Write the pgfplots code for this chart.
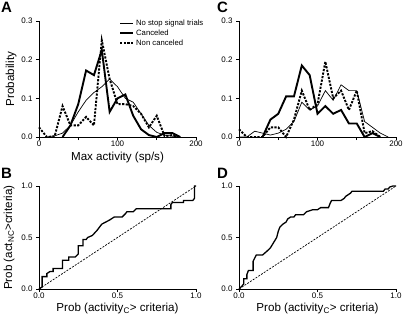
\documentclass[border=0pt]{standalone}
\usepackage{pgfplots}
\pgfplotsset{compat=1.18}
\usepackage{fontspec}
\setmainfont{Liberation Sans}
\begin{document}
\begin{tikzpicture}[x=1pt,y=1pt]
\pgfplotsset{
  every axis/.append style={
    scale only axis, axis lines=left, axis line style={-, line width=0.9pt},
    tick align=outside, tick style={line width=0.8pt, black}, major tick length=3pt,
    tick label style={font=\fontsize{8}{8}\selectfont},
    xticklabel style={inner sep=1pt},
    label style={font=\fontsize{11.6}{12}\selectfont},
    clip=false, enlargelimits=false,
  },
  nostop/.style={black, line width=0.7pt},
  canc/.style={black, line width=1.9pt},
  noncanc/.style={black, line width=1.9pt, dash pattern=on 2.2pt off 1.4pt},
  histax/.style={width=157pt, height=116pt, xmin=0, xmax=200, ymin=0, ymax=0.3,
    xtick={0,50,100,150,200}, xticklabels={0,,100,,200},
    ytick={0,0.1,0.2,0.3}, yticklabels={0.0,0.1,0.2,0.3}},
  rocax/.style={width=157pt, height=103pt, xmin=0, xmax=1, ymin=0, ymax=1,
    xtick={0,0.5,1}, xticklabels={0.0,0.5,1.0},
    ytick={0,0.5,1}, yticklabels={0.0,0.5,1.0},
    xlabel={Prob (activity$_{\mathrm{C}}$> criteria)},
    xlabel style={at={(axis description cs:0.5,-0.19)}, anchor=center}},
}
% Panel A
\begin{axis}[histax, at={(39pt,182pt)}, anchor=south west,
  xlabel={Max activity (sp/s)}, ylabel={Probability},
  xlabel style={at={(axis description cs:0.5,-0.175)}, anchor=center},
  ylabel style={at={(axis description cs:-0.178,0.5)}, anchor=center},
  legend style={at={(axis description cs:0.51,1.03)}, anchor=north west, draw=none, fill=none,
    font=\fontsize{7.7}{8}\selectfont, row sep=-1.2pt, inner sep=0pt, cells={anchor=west}},
  legend image code/.code={\draw[#1] (0pt,0pt) -- (13pt,0pt);},
  ]
\addplot[nostop] coordinates {(10,0) (20,0.003) (30,0.01) (40,0.03) (50,0.065) (60,0.095) (70,0.115) (80,0.13) (90,0.15) (100,0.13) (110,0.1) (120,0.09) (130,0.06) (140,0.03) (150,0.012) (160,0.005) (170,0.002) (180,0)};
\addlegendentry{No stop signal trials}
\addplot[canc] coordinates {(30,0) (40,0.03) (50,0.085) (60,0.172) (70,0.16) (80,0.225) (90,0.065) (100,0.1) (110,0.11) (120,0.055) (130,0.02) (140,0.005) (150,0) (160,0.01) (170,0.01) (180,0)};
\addlegendentry{Canceled}
\addplot[noncanc] coordinates {(0,0.025) (10,0) (20,0.002) (30,0.08) (40,0.03) (50,0.03) (60,0.052) (70,0.03) (80,0.25) (90,0.15) (100,0.085) (110,0.085) (120,0.08) (130,0.06) (140,0.025) (150,0.055) (160,0.002) (170,0.005) (180,0)};
\addlegendentry{Non canceled}
\end{axis}
% Panel C
\begin{axis}[histax, at={(239pt,182pt)}, anchor=south west]
\addplot[nostop] coordinates {(0,0) (10,0) (20,0.015) (30,0.01) (40,0.005) (50,0.01) (60,0.02) (70,0.04) (80,0.09) (90,0.07) (100,0.08) (110,0.12) (120,0.095) (130,0.135) (140,0.12) (150,0.12) (160,0.04) (170,0.025) (180,0.01) (190,0)};
\addplot[canc] coordinates {(30,0) (40,0.045) (50,0.06) (60,0.105) (70,0.105) (80,0.185) (90,0.16) (100,0.06) (110,0.08) (120,0.06) (130,0.07) (140,0.035) (150,0.035) (160,0) (170,0.01) (180,0)};
\addplot[noncanc] coordinates {(0,0.02) (10,0) (20,0) (30,0) (40,0.025) (50,0.025) (60,0) (70,0.045) (80,0.12) (90,0.07) (100,0.085) (110,0.195) (120,0.1) (130,0.12) (140,0.07) (150,0.12) (160,0.01) (170,0.015) (180,0)};
\end{axis}
% Panel B
\begin{axis}[rocax, at={(39pt,30pt)}, anchor=south west,
  ylabel={Prob (act$_{\mathrm{NC}}$>criteria)},
  ylabel style={at={(axis description cs:-0.19,0.5)}, anchor=center}]
\addplot[black, line width=0.7pt, dash pattern=on 2pt off 1.3pt] coordinates {(0,0) (1,1)};
\addplot[black, line width=1.3pt] coordinates {(0,0) (0.02,0.02) (0.02,0.12) (0.05,0.12) (0.05,0.15) (0.07,0.17) (0.09,0.17) (0.09,0.2) (0.15,0.2) (0.15,0.28) (0.19,0.28) (0.19,0.31) (0.23,0.31) (0.25,0.34) (0.25,0.42) (0.28,0.42) (0.28,0.48) (0.3,0.48) (0.31,0.5) (0.34,0.52) (0.37,0.57) (0.4,0.63) (0.45,0.67) (0.48,0.7) (0.53,0.7) (0.55,0.73) (0.56,0.75) (0.6,0.75) (0.62,0.78) (0.84,0.78) (0.84,0.82) (0.85,0.84) (0.92,0.84) (0.92,0.86) (0.98,0.86) (0.99,0.88) (0.99,1.0) (1,1)};
\end{axis}
% Panel D
\begin{axis}[rocax, at={(239pt,30pt)}, anchor=south west]
\addplot[black, line width=0.7pt, dash pattern=on 2pt off 1.3pt] coordinates {(0,0) (1,1)};
\addplot[black, line width=1.3pt] coordinates {(0,0) (0.02,0.03) (0.03,0.05) (0.03,0.1) (0.05,0.1) (0.05,0.14) (0.06,0.18) (0.09,0.18) (0.09,0.27) (0.1,0.3) (0.11,0.33) (0.15,0.33) (0.18,0.37) (0.2,0.4) (0.22,0.45) (0.24,0.5) (0.25,0.56) (0.26,0.6) (0.28,0.63) (0.3,0.65) (0.31,0.68) (0.33,0.7) (0.35,0.7) (0.36,0.72) (0.41,0.72) (0.43,0.75) (0.47,0.77) (0.5,0.77) (0.52,0.79) (0.57,0.79) (0.58,0.83) (0.59,0.86) (0.65,0.86) (0.67,0.88) (0.68,0.9) (0.71,0.93) (0.72,0.95) (0.92,0.95) (0.93,0.97) (0.95,0.97) (0.96,0.99) (0.98,1.0) (1,1)};
\end{axis}
% panel letters
\node[anchor=north west, inner sep=0pt, font=\fontsize{15}{15}\bfseries] at (1pt,317pt) {A};
\node[anchor=north west, inner sep=0pt, font=\fontsize{15}{15}\bfseries] at (217pt,317pt) {C};
\node[anchor=north west, inner sep=0pt, font=\fontsize{15}{15}\bfseries] at (1pt,151pt) {B};
\node[anchor=north west, inner sep=0pt, font=\fontsize{15}{15}\bfseries] at (217pt,151pt) {D};
\pgfresetboundingbox
\path (0pt,0pt) rectangle (403pt,319pt);
\end{tikzpicture}
\end{document}
